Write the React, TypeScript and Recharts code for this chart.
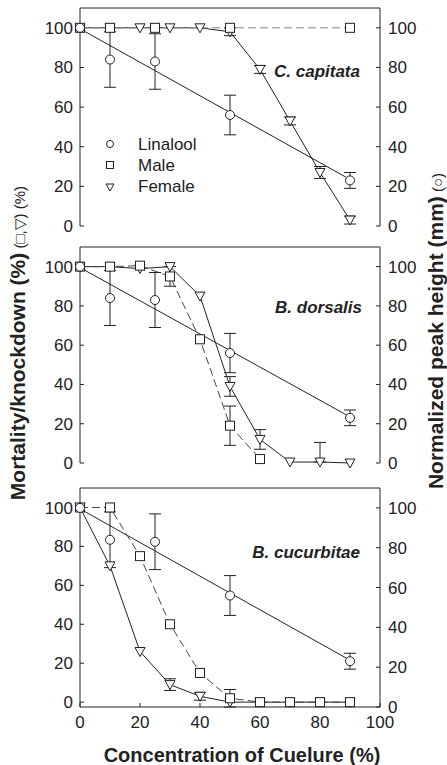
import React from 'react'
import { LineChart, Line, XAxis, YAxis, ErrorBar, ReferenceLine } from 'recharts'

// concentration of cuelure (%)
const conc = [0, 10, 20, 30, 40, 50, 60, 70, 80, 90]

// linalool peak height, same in every panel
const linX = [0, 10, 25, 50, 90]
const linY = [100, 84, 83, 56, 23]
const linErr = [0, 14, 14, 10, 4]
const fitX = [0, 90]
const fitY = [99.5, 23.5]

// C. capitata
const capMaleX = [0, 10, 25, 50, 90]
const capMale = [100, 100, 100, 100, 100]
const capFemale = [100, 100, 100, 100, 100, 98, 79, 53, 27, 3]
const capFemaleErr = [0, 0, 0, 0, 0, 2, 2, 2, 3, 2]

// B. dorsalis
const dorMaleX = [0, 10, 20, 30, 40, 50, 60]
const dorMale = [100, 100, 100.5, 95, 63, 19, 2]
const dorMaleErr = [0, 0, 0, 5, 0, 10, 0]
const dorFemale = [100, 100, 99, 100, 85, 39, 12, 0.5, 0.5, 0]
const dorFemaleErr: (number | number[])[] = [0, 0, 0, 0, 0, 5, 5, 0, [0, 10], 0]

// B. cucurbitae
const cucMale = [100, 100, 75, 40, 15, 2, 0, 0, 0, 0]
const cucMaleErr = [0, 0, 0, 0, 0, 4.5, 0, 0, 0, 0]
const cucFemale = [100, 70, 26, 9, 3, 0, 0, 0, 0, 0]
const cucFemaleErr = [0, 0, 0, 3, 2, 0, 0, 0, 0, 0]

const yTicks = [0, 20, 40, 60, 80, 100]
const xTicks = [0, 20, 40, 60, 80, 100]

const FONT = '"Liberation Sans", Arial, sans-serif'
const INK = '#222'

type Pt = { x: number; y: number; err?: number | number[] | null }

const zip = (xs: number[], ys: number[], errs?: (number | number[])[]): Pt[] =>
  xs.map((x, i) => ({ x, y: ys[i], err: errs && errs[i] ? errs[i] : null }))

const circleDot = (p: any) => (
  <circle key={`c-${p.index}`} cx={p.cx} cy={p.cy} r={4.5} fill="#fff" stroke={INK} strokeWidth={1} />
)
const squareDot = (p: any) => (
  <rect key={`s-${p.index}`} x={p.cx - 4.5} y={p.cy - 4.5} width={9} height={9} fill="#fff" stroke={INK} strokeWidth={1} />
)
const triDot = (p: any) => (
  <path
    key={`t-${p.index}`}
    d={`M${p.cx - 5},${p.cy - 4} L${p.cx + 5},${p.cy - 4} L${p.cx},${p.cy + 5} Z`}
    fill="#fff"
    stroke={INK}
    strokeWidth={1}
  />
)

interface PanelProps {
  top: number
  height: number
  margin: { top: number; bottom: number }
  male: Pt[]
  female: Pt[]
  maleColor: string
  showXLabels?: boolean
}

function Panel({ top, height, margin, male, female, maleColor, showXLabels }: PanelProps) {
  const tickStyle = { fontSize: 17, fill: INK, fontFamily: FONT }
  return (
    <div style={{ position: 'absolute', left: 0, top }}>
      <LineChart width={447} height={height} margin={{ top: margin.top, bottom: margin.bottom, left: 0, right: 0 }}>
        <XAxis
          dataKey="x"
          type="number"
          domain={[0, 100]}
          ticks={xTicks}
          interval={0}
          height={showXLabels ? 58 : 0}
          tick={showXLabels ? tickStyle : false}
          tickSize={-4}
          tickMargin={13}
          stroke={INK}
          allowDuplicatedCategory={false}
        />
        <YAxis
          yAxisId="left"
          type="number"
          domain={[0, 110]}
          ticks={yTicks}
          interval={0}
          width={80}
          tick={tickStyle}
          tickSize={-4}
          tickMargin={11}
          stroke={INK}
        />
        <YAxis
          yAxisId="right"
          orientation="right"
          type="number"
          domain={[0, 110]}
          ticks={yTicks}
          interval={0}
          width={67}
          tick={{ ...tickStyle, textAnchor: 'start' }}
          tickSize={-4}
          tickMargin={12}
          stroke={INK}
        />
        <ReferenceLine yAxisId="left" y={110} stroke={INK} ifOverflow="visible" />
        <Line
          yAxisId="right"
          data={zip(fitX, fitY)}
          dataKey="y"
          stroke={INK}
          strokeWidth={1}
          dot={false}
          isAnimationActive={false}
        />
        <Line
          yAxisId="left"
          data={female}
          dataKey="y"
          stroke={INK}
          strokeWidth={1}
          dot={triDot}
          isAnimationActive={false}
        >
          <ErrorBar dataKey="err" width={6} stroke={INK} strokeWidth={1} direction="y" />
        </Line>
        <Line
          yAxisId="left"
          data={male}
          dataKey="y"
          stroke={maleColor}
          strokeWidth={1}
          strokeDasharray="8 4"
          dot={squareDot}
          isAnimationActive={false}
        >
          <ErrorBar dataKey="err" width={6} stroke={INK} strokeWidth={1} direction="y" />
        </Line>
        <Line
          yAxisId="right"
          data={zip(linX, linY, linErr)}
          dataKey="y"
          stroke="none"
          dot={circleDot}
          isAnimationActive={false}
        >
          <ErrorBar dataKey="err" width={6} stroke={INK} strokeWidth={1} direction="y" />
        </Line>
      </LineChart>
    </div>
  )
}

export default function App() {
  const legendText = { fontSize: 17, fill: INK, fontFamily: FONT }
  const species = { fontSize: 17, fill: INK, fontFamily: FONT, fontWeight: 'bold' as const, fontStyle: 'italic' as const }
  return (
    <div style={{ position: 'absolute', left: 0, top: 0, width: 447, height: 765, background: '#fff' }}>
      <Panel
        top={0}
        height={240}
        margin={{ top: 8, bottom: 14 }}
        male={zip(capMaleX, capMale)}
        female={zip(conc, capFemale, capFemaleErr)}
        maleColor="#8a8a8a"
      />
      <Panel
        top={236}
        height={240}
        margin={{ top: 11, bottom: 13 }}
        male={zip(dorMaleX, dorMale, dorMaleErr)}
        female={zip(conc, dorFemale, dorFemaleErr)}
        maleColor="#444"
      />
      <Panel
        top={476}
        height={289}
        margin={{ top: 12, bottom: 0 }}
        male={zip(conc, cucMale, cucMaleErr)}
        female={zip(conc, cucFemale, cucFemaleErr)}
        maleColor="#444"
        showXLabels
      />
      <svg width={447} height={765} style={{ position: 'absolute', left: 0, top: 0, pointerEvents: 'none' }}>
        {/* legend */}
        <circle cx={110} cy={144} r={3.5} fill="#fff" stroke={INK} />
        <text x={138} y={149.5} {...legendText}>Linalool</text>
        <rect x={106.5} y={161.5} width={7} height={7} fill="#fff" stroke={INK} />
        <text x={138} y={170.5} {...legendText}>Male</text>
        <path d="M106,184 L114,184 L110,191 Z" fill="#fff" stroke={INK} />
        <text x={138} y={192} {...legendText}>Female</text>

        <text x={360} y={77} textAnchor="end" {...species}>C. capitata</text>
        <text x={362} y={313} textAnchor="end" {...species}>B. dorsalis</text>
        <text x={360} y={558} textAnchor="end" {...species}>B. cucurbitae</text>

        <text x={242} y={762} textAnchor="middle" fontFamily={FONT} fontSize={20} fontWeight="bold" fill={INK}>
          Concentration of Cuelure (%)
        </text>
        <text transform="translate(25,343) rotate(-90)" textAnchor="middle" fontFamily={FONT} fill={INK}>
          <tspan fontSize={21} fontWeight="bold">Mortality/knockdown (%)</tspan>
          <tspan fontSize={15}> (□,▽) (%)</tspan>
        </text>
        <text transform="translate(443,331) rotate(-90)" textAnchor="middle" fontFamily={FONT} fill={INK}>
          <tspan fontSize={21} fontWeight="bold">Normalized peak height (mm)</tspan>
          <tspan fontSize={15}> (○)</tspan>
        </text>
      </svg>
    </div>
  )
}
